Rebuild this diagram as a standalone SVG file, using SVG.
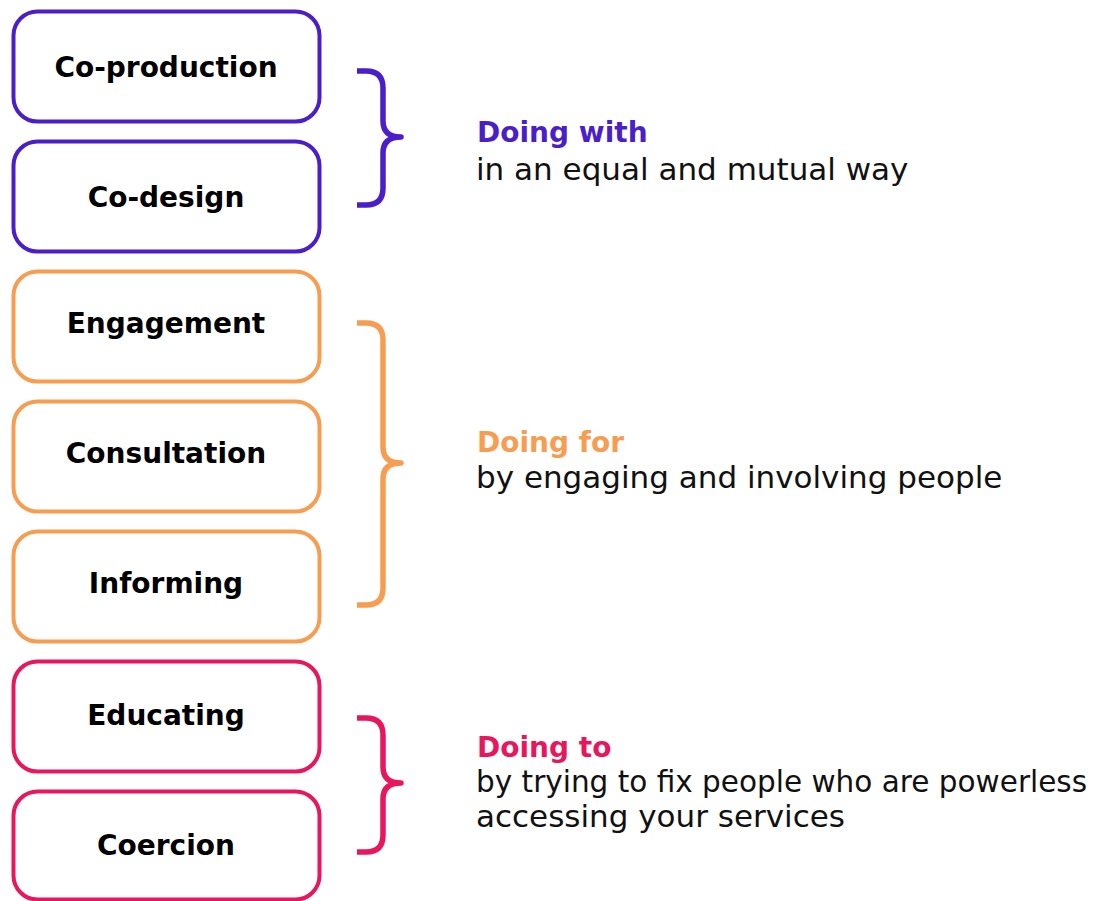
<svg xmlns="http://www.w3.org/2000/svg" width="1111" height="901" viewBox="0 0 1111 901">
  <style>
    .box { fill: #fff; stroke-width: 4; }
    .brace { fill: none; stroke-width: 5.5; stroke-linecap: butt; stroke-linejoin: round; }
    .with { stroke: #4A1FC9; }
    .for { stroke: #F79D52; }
    .to { stroke: #E8175D; }
    .label { font-family: "DejaVu Sans", "Liberation Sans", sans-serif; font-weight: bold; font-size: 28px; fill: #000; text-anchor: middle; }
    .head { font-family: "DejaVu Sans", "Liberation Sans", sans-serif; font-weight: bold; font-size: 28px; }
    .desc { font-family: "DejaVu Sans", "Liberation Sans", sans-serif; font-weight: normal; font-size: 31px; fill: #111; }
    .desc.long { font-size: 29.5px; }
  </style>
  <rect width="1111" height="901" fill="#fff"/>

  <g id="co-production"><rect class="box with" x="13.5" y="11.5" width="306" height="110" rx="24"/><text class="label" x="166" y="77">Co-production</text></g>
  <g id="co-design"><rect class="box with" x="13.5" y="141.5" width="306" height="110" rx="24"/><text class="label" x="166" y="207">Co-design</text></g>
  <g id="engagement"><rect class="box for" x="13.5" y="271.5" width="306" height="110" rx="24"/><text class="label" x="166" y="333">Engagement</text></g>
  <g id="consultation"><rect class="box for" x="13.5" y="401.5" width="306" height="110" rx="24"/><text class="label" x="166" y="463">Consultation</text></g>
  <g id="informing"><rect class="box for" x="13.5" y="531.5" width="306" height="110" rx="24"/><text class="label" x="166" y="593">Informing</text></g>
  <g id="educating"><rect class="box to" x="13.5" y="661.5" width="306" height="110" rx="24"/><text class="label" x="166" y="725">Educating</text></g>
  <g id="coercion"><rect class="box to" x="13.5" y="791.5" width="306" height="108" rx="24"/><text class="label" x="166" y="855">Coercion</text></g>

  <g id="connectors">
    <path class="brace with" d="M357,71 H366 Q383,71 383,88 V121 Q383,137 401,137 Q383,137 383,153 V188 Q383,205 366,205 H357"/>
    <path class="brace for" d="M357,323 H366 Q383,323 383,340 V447 Q383,463 401,463 Q383,463 383,479 V588 Q383,605 366,605 H357"/>
    <path class="brace to" d="M357,718 H366 Q383,718 383,735 V767 Q383,783 401,783 Q383,783 383,799 V835 Q383,852 366,852 H357"/>
  </g>

  <g id="doing-with">
    <text class="head" x="477" y="142" fill="#4A1FC9">Doing with</text>
    <text class="desc" x="476" y="180">in an equal and mutual way</text>
  </g>
  <g id="doing-for">
    <text class="head" x="477" y="452" fill="#F79D52">Doing for</text>
    <text class="desc" x="476" y="488">by engaging and involving people</text>
  </g>
  <g id="doing-to">
    <text class="head" x="477" y="757" fill="#E8175D">Doing to</text>
    <text class="desc long" x="476" y="792">by trying to fix people who are powerless</text>
    <text class="desc" x="476" y="827">accessing your services</text>
  </g>
</svg>
